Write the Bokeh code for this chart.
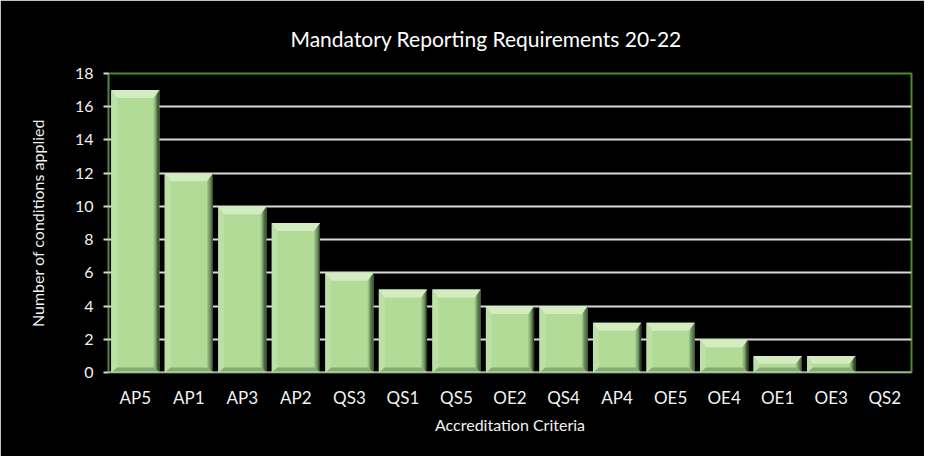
from bokeh.plotting import figure
from bokeh.models import ColumnDataSource, FixedTicker, Range1d, Span
from bokeh.embed import file_html
from bokeh.resources import INLINE

categories = ["AP5", "AP1", "AP3", "AP2", "QS3", "QS1", "QS5", "OE2", "QS4",
              "AP4", "OE5", "OE4", "OE1", "OE3", "QS2"]
conditions = [17, 12, 10, 9, 6, 5, 5, 4, 4, 3, 3, 2, 1, 1, 0]
y_ticks = [0, 2, 4, 6, 8, 10, 12, 14, 16, 18]

FONT = "Lato"
TEXT = "#f2f2f2"

p = figure(width=924, height=456, output_backend="svg", toolbar_location=None,
           x_range=Range1d(-0.5, len(categories) - 0.5), y_range=Range1d(0, 18),
           background_fill_color="black", border_fill_color="black",
           min_border_left=108, min_border_right=13, min_border_bottom=84,
           min_border_top=73)

p.title.text = "Mandatory Reporting Requirements 20-22"
p.title.align = "left"
p.title.offset = 182
p.title.text_color = "#ffffff"
p.title.text_font = FONT
p.title.text_font_size = "21px"
p.title.text_font_style = "normal"
p.title.standoff = 46

p.outline_line_color = "#4f8a2d"
p.outline_line_width = 2

# grid
p.xgrid.grid_line_color = None
p.ygrid.grid_line_color = "#d9d9d9"
p.ygrid.grid_line_width = 2
p.yaxis.ticker = FixedTicker(ticks=y_ticks)

# bars with bevel
w = 0.9
sx = 0.11   # side bevel (x units)
ty = 0.48   # top bevel (y units)
by = 0.30   # bottom bevel (y units)
face_xs, face_ys = [], []
bev_xs, bev_ys, bev_c = [], [], []
for i, v in enumerate(conditions):
    if v <= 0:
        continue
    l, r = i - w / 2, i + w / 2
    face_xs.append([l, r, r, l]); face_ys.append([0, 0, v, v])
    # left bevel
    bev_xs.append([l, l + sx, l + sx, l]); bev_ys.append([0, by, v - ty, v]); bev_c.append("#bde0a6")
    # right bevel gradient strips
    strips = ["#9cc585", "#7fa46b", "#62845a", "#465f3c", "#2e3f28"]
    n = len(strips)
    for k, c in enumerate(strips):
        x0 = r - sx + sx * k / n
        x1 = r - sx + sx * (k + 1) / n
        f0 = k / n
        f1 = (k + 1) / n
        bev_xs.append([x0, x1, x1, x0])
        bev_ys.append([by * (1 - f0), by * (1 - f1), v - ty * (1 - f1), v - ty * (1 - f0)])
        bev_c.append(c)
    # bottom bevel
    bev_xs.append([l, r, r - sx, l + sx]); bev_ys.append([0, 0, by, by]); bev_c.append("#86ab72")
    # top bevel
    bev_xs.append([l, r, r - sx, l + sx]); bev_ys.append([v, v, v - ty, v - ty]); bev_c.append("#d3edc1")

p.patches(xs=face_xs, ys=face_ys, fill_color="#b3db98", line_color=None)
p.patches(xs="xs", ys="ys", fill_color="c", line_color=None,
          source=ColumnDataSource(dict(xs=bev_xs, ys=bev_ys, c=bev_c)))

p.add_layout(Span(location=0, dimension="width", line_color="#d9d9d9", line_width=2))

# axes
p.xaxis.ticker = FixedTicker(ticks=list(range(len(categories))))
p.xaxis.major_label_overrides = {i: c for i, c in enumerate(categories)}
p.xaxis.axis_label = "Accreditation Criteria"
p.yaxis.axis_label = "Number of conditions applied"
for ax in (p.xaxis[0], p.yaxis[0]):
    ax.major_label_text_color = TEXT
    ax.major_label_text_font = FONT
    ax.major_label_text_font_size = "16px"
    ax.axis_label_text_color = TEXT
    ax.axis_label_text_font = FONT
    ax.axis_label_text_font_size = "16px"
    ax.axis_label_text_font_style = "normal"
    ax.minor_tick_line_color = None
    ax.axis_line_color = None
p.xaxis.major_label_text_font_size = "17px"
p.xaxis.major_tick_line_color = None
p.xaxis.major_label_standoff = 8
p.xaxis.axis_label_standoff = 4
p.yaxis.major_tick_line_color = "#d9d9d9"
p.yaxis.major_tick_line_width = 2
p.yaxis.major_tick_out = 5
p.yaxis.major_tick_in = 0
p.yaxis.major_label_standoff = 10
p.yaxis.axis_label_standoff = 25

open("out.html", "w").write(file_html(p, INLINE))
